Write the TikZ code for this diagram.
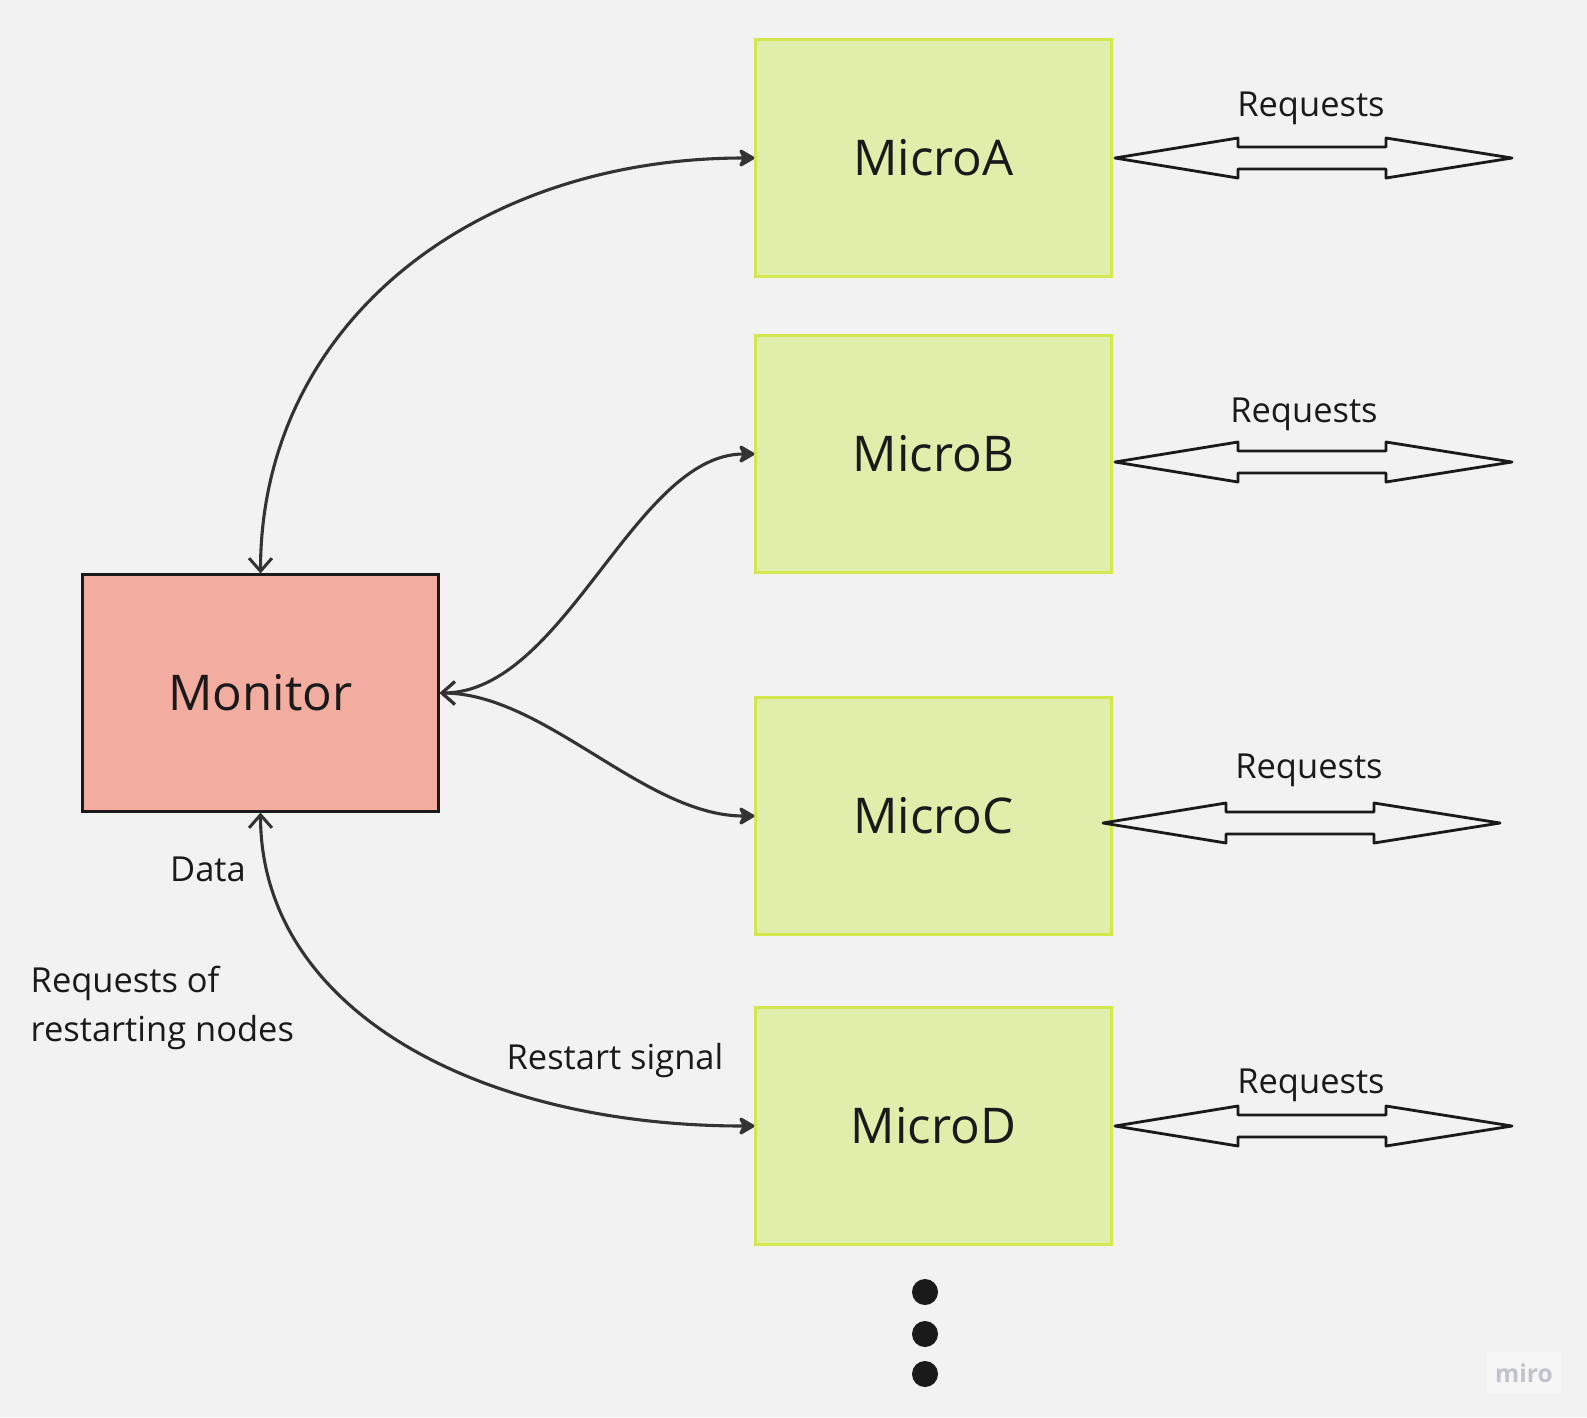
\documentclass[tikz,border=0pt]{standalone}
\usepackage{fontspec}
\setmainfont{Open Sans}
\usetikzlibrary{arrows.meta}
\definecolor{bg}{HTML}{F2F2F2}
\definecolor{microfill}{HTML}{E1EDAA}
\definecolor{microline}{HTML}{D2E84E}
\definecolor{monfill}{HTML}{F3ACA0}
\definecolor{ink}{HTML}{1A1A1A}
\definecolor{conncol}{HTML}{333333}
\definecolor{mirotext}{HTML}{C2C2CC}
\definecolor{mirobg}{HTML}{F6F6F6}
\tikzset{
  micro/.style={draw=microline, fill=microfill, line width=0.85pt, minimum width=3.55cm, minimum height=2.36cm, inner sep=0pt, font=\fontsize{14}{17}\selectfont, text=ink},
  monitor/.style={draw=ink, fill=monfill, line width=0.85pt, minimum width=3.55cm, minimum height=2.36cm, inner sep=0pt, font=\fontsize{14}{17}\selectfont, text=ink},
  conn/.style={draw=conncol, line width=0.88pt, {Straight Barb[length=3.7pt,width=6.5pt,line width=0.85pt]}-{Stealth[length=5.2pt,width=6pt,inset=1.4pt,round]}},
  lbl/.style={font=\fontsize{9.8}{14.1}\selectfont, text=ink, inner sep=0pt},
  dblarrow/.style={draw=ink, fill=bg, line width=0.8pt, line join=round},
  dot/.style={circle, fill=ink, minimum size=0.26cm, inner sep=0pt}
}
\begin{document}
\begin{tikzpicture}[x=0.01cm, y=-0.01cm]
\useasboundingbox[fill=bg] (0,0) rectangle (1587,1417);
% boxes
\node[monitor] (mon) at (260.5,693) {Monitor};
\node[micro] (mA) at (933.5,158) {MicroA};
\node[micro] (mB) at (933.5,454) {MicroB};
\node[micro] (mC) at (933.5,816) {MicroC};
\node[micro] (mD) at (933.5,1126) {MicroD};
% connectors
\draw[conn] (mon.north) .. controls +(0,-248) and +(-282,0) .. (mA.west);
\draw[conn] (mon.east) .. controls +(125,0) and +(-120,0) .. (mB.west);
\draw[conn] (mon.east) .. controls +(105,0) and +(-110,0) .. (mC.west);
\draw[conn] (mon.south) .. controls +(0,195) and +(-280,0) .. (mD.west);
% double arrows
\foreach \nm/\xl/\yc in {dA/1115/158, dB/1115/462, dC/1103/823, dD/1115/1126}{
  \draw[dblarrow] (\xl,\yc) -- ++(123,-20) -- ++(0,9) -- ++(148,0) -- ++(0,-9) -- ++(126,20)
     -- ++(-126,20) -- ++(0,-9) -- ++(-148,0) -- ++(0,9) -- cycle;
  \coordinate (\nm) at (\xl+198,\yc);
}
\node[lbl] (rA) at (1311,108) {Requests};
\node[lbl] (rB) at (1304,414) {Requests};
\node[lbl] (rC) at (1309,770) {Requests};
\node[lbl] (rD) at (1311,1085) {Requests};
% labels
\node[lbl] (data) at (208,869) {Data};
\node[lbl, anchor=west, align=left] (reqs) at (30,1008) {Requests of\\restarting nodes};
\node[lbl] (rsig) at (615,1061) {Restart signal};
% dots
\node[dot] (d1) at (925,1292) {};
\node[dot] (d2) at (925,1334) {};
\node[dot] (d3) at (925,1374) {};
% miro mark
\node[fill=mirobg, minimum width=0.74cm, minimum height=0.42cm, inner sep=0pt, text=mirotext, font=\fontsize{7}{8}\selectfont\bfseries] (miro) at (1524,1373) {miro};
\end{tikzpicture}
\end{document}
